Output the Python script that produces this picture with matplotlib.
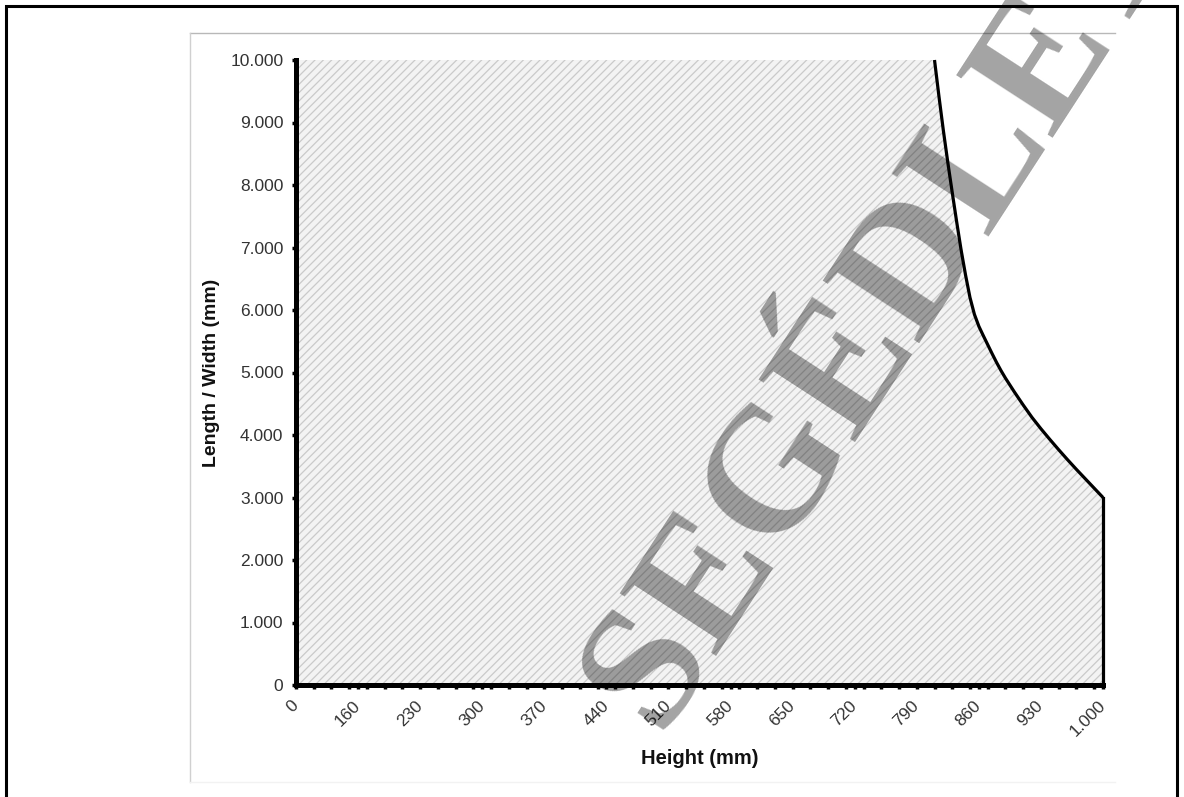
import matplotlib
matplotlib.use("Agg")
import matplotlib.pyplot as plt
import matplotlib.patches as mpatches
from matplotlib.lines import Line2D
import numpy as np

plt.rcParams['font.family'] = ['Liberation Sans', 'DejaVu Sans']
plt.rcParams['hatch.linewidth'] = 0.9

# Category axis (Excel style): 0, then 100 ... 1000 in steps of 10
heights = [0] + list(range(100, 1001, 10))
tick_labels = ['0', '160', '230', '300', '370', '440', '510', '580',
               '650', '720', '790', '860', '930', '1.000']
label_step = 7
minor_step = 2

# Limit curve (height mm -> length/width mm)
curve_heights = [810, 815, 820, 825, 830, 835, 840, 845, 850, 855,
                 860, 865, 870, 875, 880, 885, 890, 895, 900, 910,
                 920, 930, 940, 950, 960, 970, 980, 990, 1000]
curve_lengths = [10000, 9420, 8870, 8360, 7880, 7410, 6960, 6560, 6200, 5930,
                 5740, 5590, 5445, 5300, 5160, 5030, 4910, 4800, 4690, 4480,
                 4280, 4100, 3930, 3765, 3605, 3450, 3300, 3150, 3000]
max_length = 10000

y_ticks = [0, 1000, 2000, 3000, 4000, 5000, 6000, 7000, 8000, 9000, 10000]

# category index positions on the axis
cat_idx = np.arange(len(heights))
curve_pos = np.interp(curve_heights, heights, cat_idx)
flat_pos = [i for i, h in zip(cat_idx, heights) if h < curve_heights[0]]
area_pos = list(flat_pos) + list(curve_pos)
area_vals = [max_length] * len(flat_pos) + curve_lengths

W, H = 1184, 797
fig = plt.figure(figsize=(W / 100, H / 100), dpi=100, facecolor='white')

# outer page frame and chart area border
fig.add_artist(mpatches.Rectangle((6 / W, -0.05), (1177 - 6) / W, 1.05 - 6 / H,
                                  transform=fig.transFigure, fill=False,
                                  edgecolor='black', linewidth=2.2))
fig.add_artist(Line2D([190 / W, 1115 / W], [1 - 33 / H, 1 - 33 / H],
                      transform=fig.transFigure, color='#b8b8b8', lw=1))
fig.add_artist(Line2D([190 / W, 190 / W], [1 - 33 / H, 1 - 782 / H],
                      transform=fig.transFigure, color='#d0d0d0', lw=1))
fig.add_artist(Line2D([190 / W, 1115 / W], [1 - 782 / H, 1 - 782 / H],
                      transform=fig.transFigure, color='#f2f2f2', lw=1))

left, right, top, bottom = 296, 1103, 60, 685
ax = fig.add_axes([left / W, 1 - bottom / H, (right - left) / W, (bottom - top) / H])
ax.set_facecolor('none')

ax.fill_between(area_pos, area_vals, 0, facecolor='#f3f3f3', edgecolor='#cacaca',
                hatch='////', linewidth=0, zorder=1)
ax.plot(curve_pos, curve_lengths, color='black', lw=2.3, zorder=3,
        solid_capstyle='butt', solid_joinstyle='round', clip_on=False)
ax.plot([curve_pos[-1], curve_pos[-1]], [curve_lengths[-1], 0], color='black',
        lw=2.3, zorder=3, clip_on=False)

ax.set_xlim(0, len(heights) - 1)
ax.set_ylim(0, max_length)

for s in ['top', 'right']:
    ax.spines[s].set_visible(False)
for s in ['left', 'bottom']:
    ax.spines[s].set_linewidth(3.6)
    ax.spines[s].set_color('black')
    ax.spines[s].set_zorder(4)

ax.set_yticks(y_ticks)
ax.set_yticklabels([f'{v:,}'.replace(',', '.') for v in y_ticks])
ax.tick_params(axis='y', direction='out', length=3, width=2.5, pad=6,
               labelsize=12.5, labelcolor='#333333')

major_pos = list(range(0, len(heights), label_step))
ax.set_xticks(major_pos)
ax.set_xticklabels(tick_labels, rotation=45, ha='right', va='center',
                   rotation_mode='anchor')
minor_pos = [p for p in range(0, len(heights), minor_step) if p not in major_pos]
minor_pos.append(len(heights) - 1)
ax.set_xticks(minor_pos, minor=True)
ax.tick_params(axis='x', which='both', direction='out', length=3, width=2.5,
               pad=10, labelsize=12.5, labelcolor='#333333')

ax.set_xlabel('Height (mm)', fontsize=14.5, fontweight='bold', color='#111111')
ax.xaxis.set_label_coords(0.5, -0.103)
ax.set_ylabel('Length / Width (mm)', fontsize=14, fontweight='bold', color='#111111')
ax.yaxis.set_label_coords(-0.094, 0.5)

# watermark
fig.text(658 / W, 1 - 732 / H, 'SEGÉDLET', fontsize=127, family='Liberation Serif',
         fontweight='bold', rotation=57, rotation_mode='anchor', ha='left',
         va='baseline', color='black', alpha=0.36, zorder=10)

fig.savefig('out.png', dpi=100, facecolor='white')
